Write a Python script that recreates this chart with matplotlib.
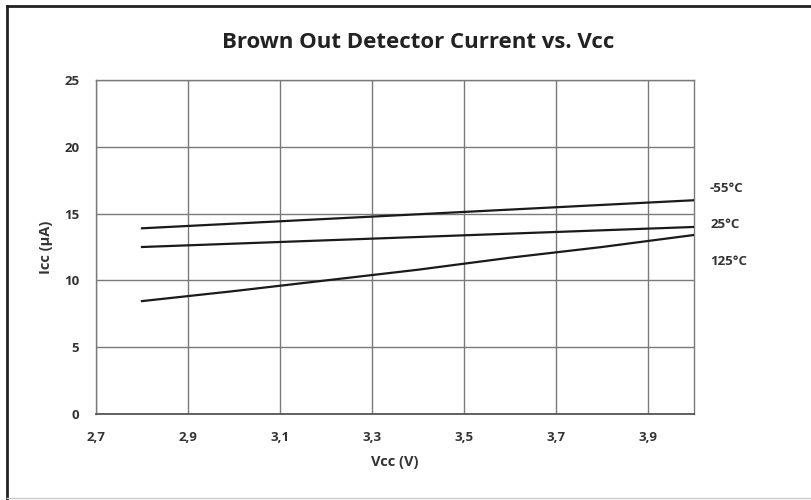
import numpy as np
import matplotlib.pyplot as plt
from matplotlib.lines import Line2D

plt.rcParams['font.family'] = ['Open Sans', 'DejaVu Sans']

vcc = [2.8, 3.0, 3.2, 3.4, 3.6, 3.8, 4.0]
icc_m55 = [13.9, 14.25, 14.6, 14.95, 15.3, 15.65, 16.0]
icc_25 = [12.5, 12.75, 13.0, 13.25, 13.5, 13.75, 14.0]
icc_125 = [8.45, 9.2, 10.0, 10.8, 11.7, 12.5, 13.4]
series_labels = ['-55°C', '25°C', '125°C']
label_y = [16.9, 14.15, 11.4]

xticks = [2.7, 2.9, 3.1, 3.3, 3.5, 3.7, 3.9]
xtick_labels = ['2,7', '2,9', '3,1', '3,3', '3,5', '3,7', '3,9']
yticks = [0, 5, 10, 15, 20, 25]

fig = plt.figure(figsize=(8.12, 5), dpi=100)
ax = fig.add_axes([96 / 812, 1 - 414 / 500, (694 - 96) / 812, (414 - 80) / 500])

for y in [icc_m55, icc_25, icc_125]:
    ax.plot(vcc, y, color='#1a1a1a', lw=1.6, zorder=3)

ax.set_xlim(2.7, 4.0)
ax.set_ylim(0, 25)
ax.set_xticks(xticks)
ax.set_xticklabels(xtick_labels)
ax.set_yticks(yticks)
ax.grid(True, color='#7a7a7a', lw=1.0)
ax.tick_params(length=0, labelsize=9.5, pad=12)
for lab in ax.get_xticklabels() + ax.get_yticklabels():
    lab.set_fontweight('bold')
    lab.set_color('#333333')
for side in ['top', 'right', 'left']:
    ax.spines[side].set_color('#7a7a7a')
    ax.spines[side].set_linewidth(1.0)
ax.spines['bottom'].set_color('#555555')
ax.spines['bottom'].set_linewidth(1.3)

ax.set_xlabel('Vcc (V)', fontsize=10.5, fontweight='bold', color='#333333', labelpad=8)
ax.set_ylabel('Icc (µA)', fontsize=10.5, fontweight='bold', color='#333333', labelpad=8)

for lab, y in zip(series_labels, label_y):
    ax.text(4.035, y, lab, fontsize=9.5, fontweight='bold', color='#333333',
            va='center', ha='left', clip_on=False)

fig.text(418 / 812, 1 - 42 / 500, 'Brown Out Detector Current vs. Vcc',
         fontsize=16, fontweight='bold', color='#222222', ha='center', va='center')

# outer frame
fig.add_artist(Line2D([7 / 812, 1], [1 - 6 / 500] * 2, color='#222222', lw=2))
fig.add_artist(Line2D([7 / 812] * 2, [0, 1 - 6 / 500], color='#222222', lw=2))
fig.add_artist(Line2D([7 / 812, 1], [1 - 498 / 500] * 2, color='#cccccc', lw=1))

fig.savefig('out.png', dpi=100)
